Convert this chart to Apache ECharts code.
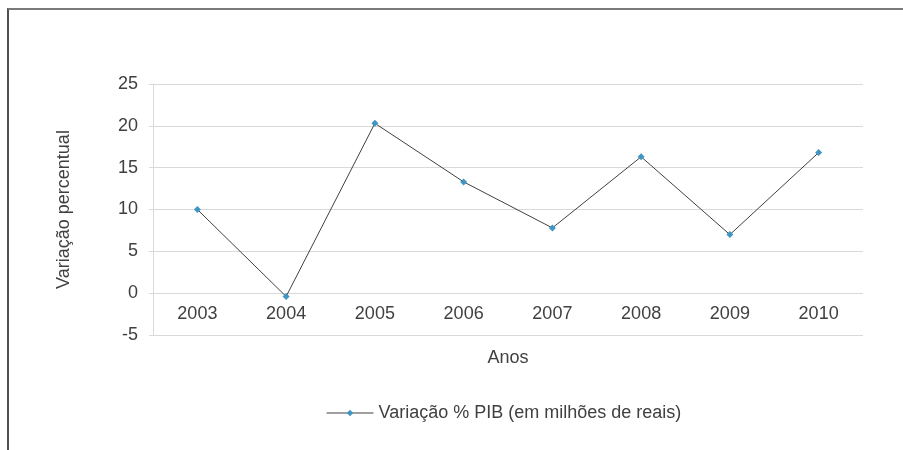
<!DOCTYPE html>
<html>
<head>
<meta charset="utf-8">
<script src="https://cdn.jsdelivr.net/npm/echarts@6/dist/echarts.min.js"></script>
<style>
  html, body { margin: 0; padding: 0; background: #fff; }
  #frame {
    position: absolute; left: 7px; top: 8px; width: 896px; height: 442px;
    border-top: 2px solid #7a7a7a; border-left: 2px solid #505050;
  }
  #chart { position: absolute; left: 0; top: 0; width: 903px; height: 450px; }
</style>
</head>
<body>
<div id="frame"></div>
<div id="chart"></div>
<script>
const years = ["2003", "2004", "2005", "2006", "2007", "2008", "2009", "2010"];
const variacaoPib = [10.0, -0.4, 20.3, 13.3, 7.8, 16.3, 7.0, 16.8];
const yTicks = { min: -5, max: 25, interval: 5 };

const textColor = "#404040";
const gridColor = "#d9d9d9";
const fontSize = 18;

const chart = echarts.init(document.getElementById("chart"), null, { renderer: "canvas" });

chart.setOption({
  animation: false,
  textStyle: { fontFamily: "Liberation Sans, Arial, sans-serif" },
  grid: { left: 153, right: 40, top: 84, bottom: 115 },
  legend: {
    data: ["Variação % PIB (em milhões de reais)"],
    top: 399,
    left: 321,
    itemWidth: 47,
    itemHeight: 8,
    itemGap: 6,
    lineStyle: { width: 1, color: "#404040" },
    textStyle: { color: textColor, fontSize: fontSize },
  },
  xAxis: {
    type: "category",
    data: years,
    boundaryGap: true,
    name: "Anos",
    nameLocation: "middle",
    nameGap: 56,
    nameTextStyle: { color: textColor, fontSize: fontSize },
    // labels sit just under the zero line, Excel style
    offset: -42,
    axisLine: { show: false, onZero: false },
    axisTick: { show: false },
    axisLabel: { color: textColor, fontSize: fontSize, margin: 12 },
  },
  yAxis: {
    type: "value",
    min: yTicks.min,
    max: yTicks.max,
    interval: yTicks.interval,
    name: "Variação percentual",
    nameLocation: "middle",
    nameGap: 80,
    nameTextStyle: { color: textColor, fontSize: fontSize },
    axisLine: { show: true, lineStyle: { color: gridColor } },
    axisTick: { show: true, length: 4, lineStyle: { color: gridColor } },
    axisLabel: { color: textColor, fontSize: fontSize, margin: 15 },
    splitLine: { show: true, lineStyle: { color: gridColor } },
  },
  series: [
    {
      name: "Variação % PIB (em milhões de reais)",
      type: "line",
      data: variacaoPib,
      symbol: "diamond",
      symbolSize: 7,
      lineStyle: { color: "#404040", width: 1 },
      itemStyle: { color: "#3f95c4" },
    },
  ],
});
</script>
</body>
</html>
